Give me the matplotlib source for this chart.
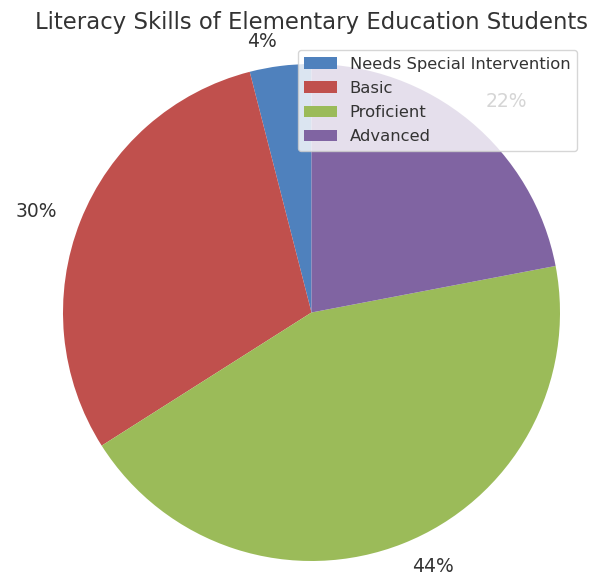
import matplotlib
matplotlib.use("Agg")
import matplotlib.pyplot as plt

categories = ["Needs Special Intervention", "Basic", "Proficient", "Advanced"]
values = [4, 30, 44, 22]
pct_labels = ["4%", "30%", "44%", "22%"]
colors = ["#4F81BD", "#C0504D", "#9BBB59", "#8064A2"]
title = "Literacy Skills of Elementary Education Students"

W, H = 590, 577
fig = plt.figure(figsize=(W / 100, H / 100), dpi=100)
ax = fig.add_axes([0, 0, 1, 1])

wedges, texts = ax.pie(values, labels=pct_labels, colors=colors, startangle=90,
                       counterclock=True, labeldistance=1.1,
                       textprops=dict(fontsize=13.5, color="#333333"))

cx, cy, r = 311.5, 312.5, 248.5
ax.set_aspect("auto")
ax.set_xlim(-cx / r, (W - cx) / r)
ax.set_ylim(-(H - cy) / r, cy / r)
ax.axis("off")

fig.text(cx / W, 1 - 22 / H, title, ha="center", va="center",
         fontsize=16.35, color="#333333")

leg = ax.legend(wedges, categories, loc="upper right",
                bbox_to_anchor=(577 / W, 1 - 50 / H),
                bbox_transform=fig.transFigure, borderaxespad=0,
                fontsize=11.75, framealpha=0.8, edgecolor="#cccccc",
                labelspacing=0.57)
for t in leg.get_texts():
    t.set_color("#333333")

fig.savefig("out.png", dpi=100)
